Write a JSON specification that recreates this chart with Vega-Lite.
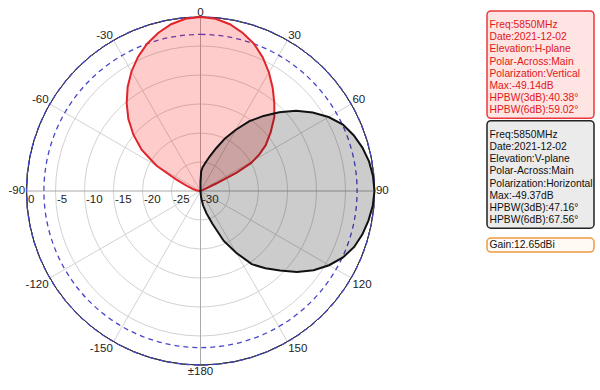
{
  "$schema": "https://vega.github.io/schema/vega-lite/v6.json",
  "padding": {"left": 7.5, "top": 6, "right": 0, "bottom": 0},
  "bounds": "flush",
  "spacing": 112.5,
  "background": "white",
  "config": {"view": {"stroke": null}, "font": "Liberation Sans", "text": {"font": "Liberation Sans"}},
  "datasets": {
    "red": [
      {"angle": -90, "db": -30}, {"angle": -85, "db": -29.6}, {"angle": -80, "db": -29.2}, {"angle": -75, "db": -28.6},
      {"angle": -70, "db": -27.6}, {"angle": -65, "db": -25.5}, {"angle": -60, "db": -21.2}, {"angle": -55, "db": -17.6},
      {"angle": -50, "db": -14.9}, {"angle": -45, "db": -12.4}, {"angle": -40, "db": -10.2}, {"angle": -35, "db": -8.1},
      {"angle": -30, "db": -6.2}, {"angle": -25, "db": -4.5}, {"angle": -20, "db": -3.0}, {"angle": -15, "db": -1.8},
      {"angle": -10, "db": -0.8}, {"angle": -5, "db": -0.2}, {"angle": 0, "db": 0}, {"angle": 5, "db": -0.2},
      {"angle": 10, "db": -0.8}, {"angle": 15, "db": -1.8}, {"angle": 20, "db": -3.0}, {"angle": 25, "db": -4.6},
      {"angle": 30, "db": -6.4}, {"angle": 35, "db": -8.3}, {"angle": 40, "db": -10.2}, {"angle": 45, "db": -12.0},
      {"angle": 50, "db": -14.2}, {"angle": 55, "db": -16.3}, {"angle": 58, "db": -18.0}, {"angle": 61, "db": -20.0},
      {"angle": 63, "db": -23.0}, {"angle": 64.5, "db": -27.0}, {"angle": 66, "db": -29.5}, {"angle": 70, "db": -30},
      {"angle": 90, "db": -30}
    ],
    "black": [
      {"angle": -10, "db": -30}, {"angle": 0, "db": -28.5}, {"angle": 2, "db": -26.6}, {"angle": 5, "db": -25.9},
      {"angle": 10, "db": -25.0}, {"angle": 15, "db": -23.8}, {"angle": 20, "db": -22.2}, {"angle": 25, "db": -20.0},
      {"angle": 30, "db": -17.8}, {"angle": 35, "db": -15.3}, {"angle": 40, "db": -13.1}, {"angle": 45, "db": -10.8},
      {"angle": 50, "db": -8.5}, {"angle": 55, "db": -6.4}, {"angle": 60, "db": -4.5}, {"angle": 65, "db": -2.9},
      {"angle": 70, "db": -1.9}, {"angle": 75, "db": -1.1}, {"angle": 80, "db": -0.5}, {"angle": 85, "db": -0.15},
      {"angle": 90, "db": 0}, {"angle": 95, "db": -0.2}, {"angle": 100, "db": -0.6}, {"angle": 105, "db": -1.1},
      {"angle": 110, "db": -1.8}, {"angle": 115, "db": -2.9}, {"angle": 120, "db": -4.4}, {"angle": 125, "db": -6.2},
      {"angle": 130, "db": -8.3}, {"angle": 135, "db": -10.6}, {"angle": 140, "db": -12.6}, {"angle": 145, "db": -14.6},
      {"angle": 150, "db": -17.7}, {"angle": 155, "db": -20.5}, {"angle": 160, "db": -24.0}, {"angle": 165, "db": -26.0},
      {"angle": 170, "db": -27.5}, {"angle": 175, "db": -29.0}, {"angle": 180, "db": -30}
    ],
    "rings": [{"db": -25}, {"db": -20}, {"db": -15}, {"db": -10}, {"db": -5}, {"db": 0}],
    "spokes": [{"angle": 0}, {"angle": 30}, {"angle": 60}, {"angle": 90}, {"angle": 120}, {"angle": 150}],
    "angleLabels": [
      {"angle": 0, "label": "0"}, {"angle": 30, "label": "30"}, {"angle": 60, "label": "60"}, {"angle": 90, "label": "90"},
      {"angle": 120, "label": "120"}, {"angle": 150, "label": "150"}, {"angle": 180, "label": "±180"},
      {"angle": -150, "label": "-150"}, {"angle": -120, "label": "-120"}, {"angle": -90, "label": "-90"},
      {"angle": -60, "label": "-60"}, {"angle": -30, "label": "-30"}
    ],
    "radLabels": [
      {"db": 0, "label": "0"}, {"db": -5, "label": "-5"}, {"db": -10, "label": "-10"}, {"db": -15, "label": "-15"},
      {"db": -20, "label": "-20"}, {"db": -25, "label": "-25"}, {"db": -30, "label": "-30"}
    ],
    "legend": [
      {"box": "H", "line": 1, "text": "Freq:5850MHz"},
      {"box": "H", "line": 2, "text": "Date:2021-12-02"},
      {"box": "H", "line": 3, "text": "Elevation:H-plane"},
      {"box": "H", "line": 4, "text": "Polar-Across:Main"},
      {"box": "H", "line": 5, "text": "Polarization:Vertical"},
      {"box": "H", "line": 6, "text": "Max:-49.14dB"},
      {"box": "H", "line": 7, "text": "HPBW(3dB):40.38°"},
      {"box": "H", "line": 8, "text": "HPBW(6dB):59.02°"},
      {"box": "V", "line": 10, "text": "Freq:5850MHz"},
      {"box": "V", "line": 11, "text": "Date:2021-12-02"},
      {"box": "V", "line": 12, "text": "Elevation:V-plane"},
      {"box": "V", "line": 13, "text": "Polar-Across:Main"},
      {"box": "V", "line": 14, "text": "Polarization:Horizontal"},
      {"box": "V", "line": 15, "text": "Max:-49.37dB"},
      {"box": "V", "line": 16, "text": "HPBW(3dB):47.16°"},
      {"box": "V", "line": 17, "text": "HPBW(6dB):67.56°"},
      {"box": "G", "line": 19, "text": "Gain:12.65dBi"}
    ]
  },
  "hconcat": [
    {
      "width": 348,
      "height": 348,
      "layer": [
        {
          "data": {"name": "rings"},
          "transform": [{"filter": "datum.db < 0"}],
          "mark": {"type": "arc", "theta": 6.2832, "filled": false, "stroke": "#d2d2d2", "strokeWidth": 1},
          "encoding": {"radius": {"field": "db", "type": "quantitative", "stack": null, "scale": {"type": "linear", "domain": [-30, 0], "range": [0, 174], "zero": false, "nice": false}}}
        },
        {
          "data": {"name": "spokes"},
          "transform": [
            {"calculate": "sin(datum.angle*PI/180)", "as": "sx"},
            {"calculate": "cos(datum.angle*PI/180)", "as": "sy"},
            {"calculate": "-datum.sx", "as": "nx"},
            {"calculate": "-datum.sy", "as": "ny"}
          ],
          "mark": {"type": "rule", "strokeWidth": 1},
          "encoding": {
            "x": {"field": "sx", "type": "quantitative", "scale": {"domain": [-1, 1], "nice": false, "zero": false}, "axis": null},
            "x2": {"field": "nx"},
            "y": {"field": "sy", "type": "quantitative", "scale": {"domain": [-1, 1], "nice": false, "zero": false}, "axis": null},
            "y2": {"field": "ny"},
            "color": {"condition": {"test": "datum.angle % 90 === 0", "value": "#a9a9a9"}, "value": "#d2d2d2"}
          }
        },
        {
          "data": {"name": "rings"},
          "transform": [{"filter": "datum.db === 0"}],
          "mark": {"type": "arc", "theta": 6.2832, "filled": false, "stroke": "#333333", "strokeWidth": 1},
          "encoding": {"radius": {"field": "db", "type": "quantitative", "stack": null, "scale": {"type": "linear", "domain": [-30, 0], "range": [0, 174], "zero": false, "nice": false}}}
        },
        {
          "data": {"values": [{"db": -3}]},
          "mark": {"type": "arc", "theta": 6.2832, "filled": false, "stroke": "#4646c8", "strokeWidth": 1.3, "strokeDash": [5, 4]},
          "encoding": {"radius": {"field": "db", "type": "quantitative", "stack": null, "scale": {"type": "linear", "domain": [-30, 0], "range": [0, 174], "zero": false, "nice": false}}}
        },
        {
          "data": {"name": "red"},
          "transform": [
            {"calculate": "max(0, (datum.db + 30) / 30)", "as": "r"},
            {"calculate": "datum.r * sin(datum.angle*PI/180)", "as": "px"},
            {"calculate": "datum.r * cos(datum.angle*PI/180)", "as": "py"}
          ],
          "mark": {"type": "line", "interpolate": "linear-closed", "stroke": "#e0242a", "strokeWidth": 2, "fill": "#ff0000", "fillOpacity": 0.2},
          "encoding": {
            "x": {"field": "px", "type": "quantitative", "scale": {"domain": [-1, 1], "nice": false, "zero": false}, "axis": null},
            "y": {"field": "py", "type": "quantitative", "scale": {"domain": [-1, 1], "nice": false, "zero": false}, "axis": null},
            "order": {"field": "angle", "type": "quantitative"}
          }
        },
        {
          "data": {"name": "black"},
          "transform": [
            {"calculate": "max(0, (datum.db + 30) / 30)", "as": "r"},
            {"calculate": "datum.r * sin(datum.angle*PI/180)", "as": "px"},
            {"calculate": "datum.r * cos(datum.angle*PI/180)", "as": "py"}
          ],
          "mark": {"type": "line", "interpolate": "linear-closed", "stroke": "#111111", "strokeWidth": 2, "fill": "#000000", "fillOpacity": 0.2},
          "encoding": {
            "x": {"field": "px", "type": "quantitative", "scale": {"domain": [-1, 1], "nice": false, "zero": false}, "axis": null},
            "y": {"field": "py", "type": "quantitative", "scale": {"domain": [-1, 1], "nice": false, "zero": false}, "axis": null},
            "order": {"field": "angle", "type": "quantitative"}
          }
        },
        {
          "data": {"name": "angleLabels"},
          "transform": [
            {"calculate": "sin(datum.angle*PI/180)", "as": "sx"},
            {"calculate": "cos(datum.angle*PI/180)", "as": "sy"},
            {"calculate": "1.008 * datum.sx", "as": "px"},
            {"calculate": "1.008 * datum.sy", "as": "py"}
          ],
          "mark": {
            "type": "text", "fontSize": 11.5, "color": "#222222",
            "align": {"expr": "datum.sx > 0.1 ? 'left' : (datum.sx < -0.1 ? 'right' : 'center')"},
            "baseline": {"expr": "datum.sy > 0.1 ? 'alphabetic' : (datum.sy < -0.1 ? 'top' : 'middle')"}
          },
          "encoding": {
            "x": {"field": "px", "type": "quantitative", "scale": {"domain": [-1, 1], "nice": false, "zero": false}, "axis": null},
            "y": {"field": "py", "type": "quantitative", "scale": {"domain": [-1, 1], "nice": false, "zero": false}, "axis": null},
            "text": {"field": "label"}
          }
        },
        {
          "data": {"name": "radLabels"},
          "transform": [{"calculate": "-(datum.db + 30) / 30", "as": "px"}],
          "mark": {"type": "text", "fontSize": 11.5, "color": "#222222", "align": "left", "baseline": "top", "dx": 1.5, "dy": 3},
          "encoding": {
            "x": {"field": "px", "type": "quantitative", "scale": {"domain": [-1, 1], "nice": false, "zero": false}, "axis": null},
            "y": {"datum": 0, "type": "quantitative", "scale": {"domain": [-1, 1], "nice": false, "zero": false}, "axis": null},
            "text": {"field": "label"}
          }
        }
      ]
    },
    {
      "width": 107,
      "height": 244,
      "data": {"name": "legend"},
      "layer": [
        {
          "transform": [{"filter": "datum.box === 'H'"}],
          "mark": {"type": "rect", "fill": "#ffe4e4", "stroke": "#e8383d", "strokeWidth": 1.5, "cornerRadius": 4, "yOffset": -14, "y2Offset": 8},
          "encoding": {
            "y": {"aggregate": "min", "field": "line", "type": "quantitative", "scale": {"domain": [0.35, 20.35], "reverse": true, "nice": false, "zero": false}, "axis": null},
            "y2": {"aggregate": "max", "field": "line"}
          }
        },
        {
          "transform": [{"filter": "datum.box === 'V'"}],
          "mark": {"type": "rect", "fill": "#ebebeb", "stroke": "#222222", "strokeWidth": 1.5, "cornerRadius": 4, "yOffset": -14, "y2Offset": 8},
          "encoding": {
            "y": {"aggregate": "min", "field": "line", "type": "quantitative", "scale": {"domain": [0.35, 20.35], "reverse": true, "nice": false, "zero": false}, "axis": null},
            "y2": {"aggregate": "max", "field": "line"}
          }
        },
        {
          "transform": [{"filter": "datum.box === 'G'"}],
          "mark": {"type": "rect", "fill": "#fffaf4", "stroke": "#f09a40", "strokeWidth": 1.5, "cornerRadius": 4, "yOffset": -6.5, "y2Offset": 7.5},
          "encoding": {
            "y": {"aggregate": "min", "field": "line", "type": "quantitative", "scale": {"domain": [0.35, 20.35], "reverse": true, "nice": false, "zero": false}, "axis": null},
            "y2": {"aggregate": "max", "field": "line"}
          }
        },
        {
          "mark": {"type": "text", "align": "left", "baseline": "middle", "dx": 2.5, "fontSize": 10.3},
          "encoding": {
            "x": {"datum": 0, "type": "quantitative", "scale": {"domain": [0, 1], "nice": false, "zero": false}, "axis": null},
            "y": {"field": "line", "type": "quantitative", "scale": {"domain": [0.35, 20.35], "reverse": true, "nice": false, "zero": false}, "axis": null},
            "text": {"field": "text"},
            "color": {"condition": {"test": "datum.box === 'H'", "value": "#e01818"}, "value": "#111111"}
          }
        }
      ]
    }
  ]
}
